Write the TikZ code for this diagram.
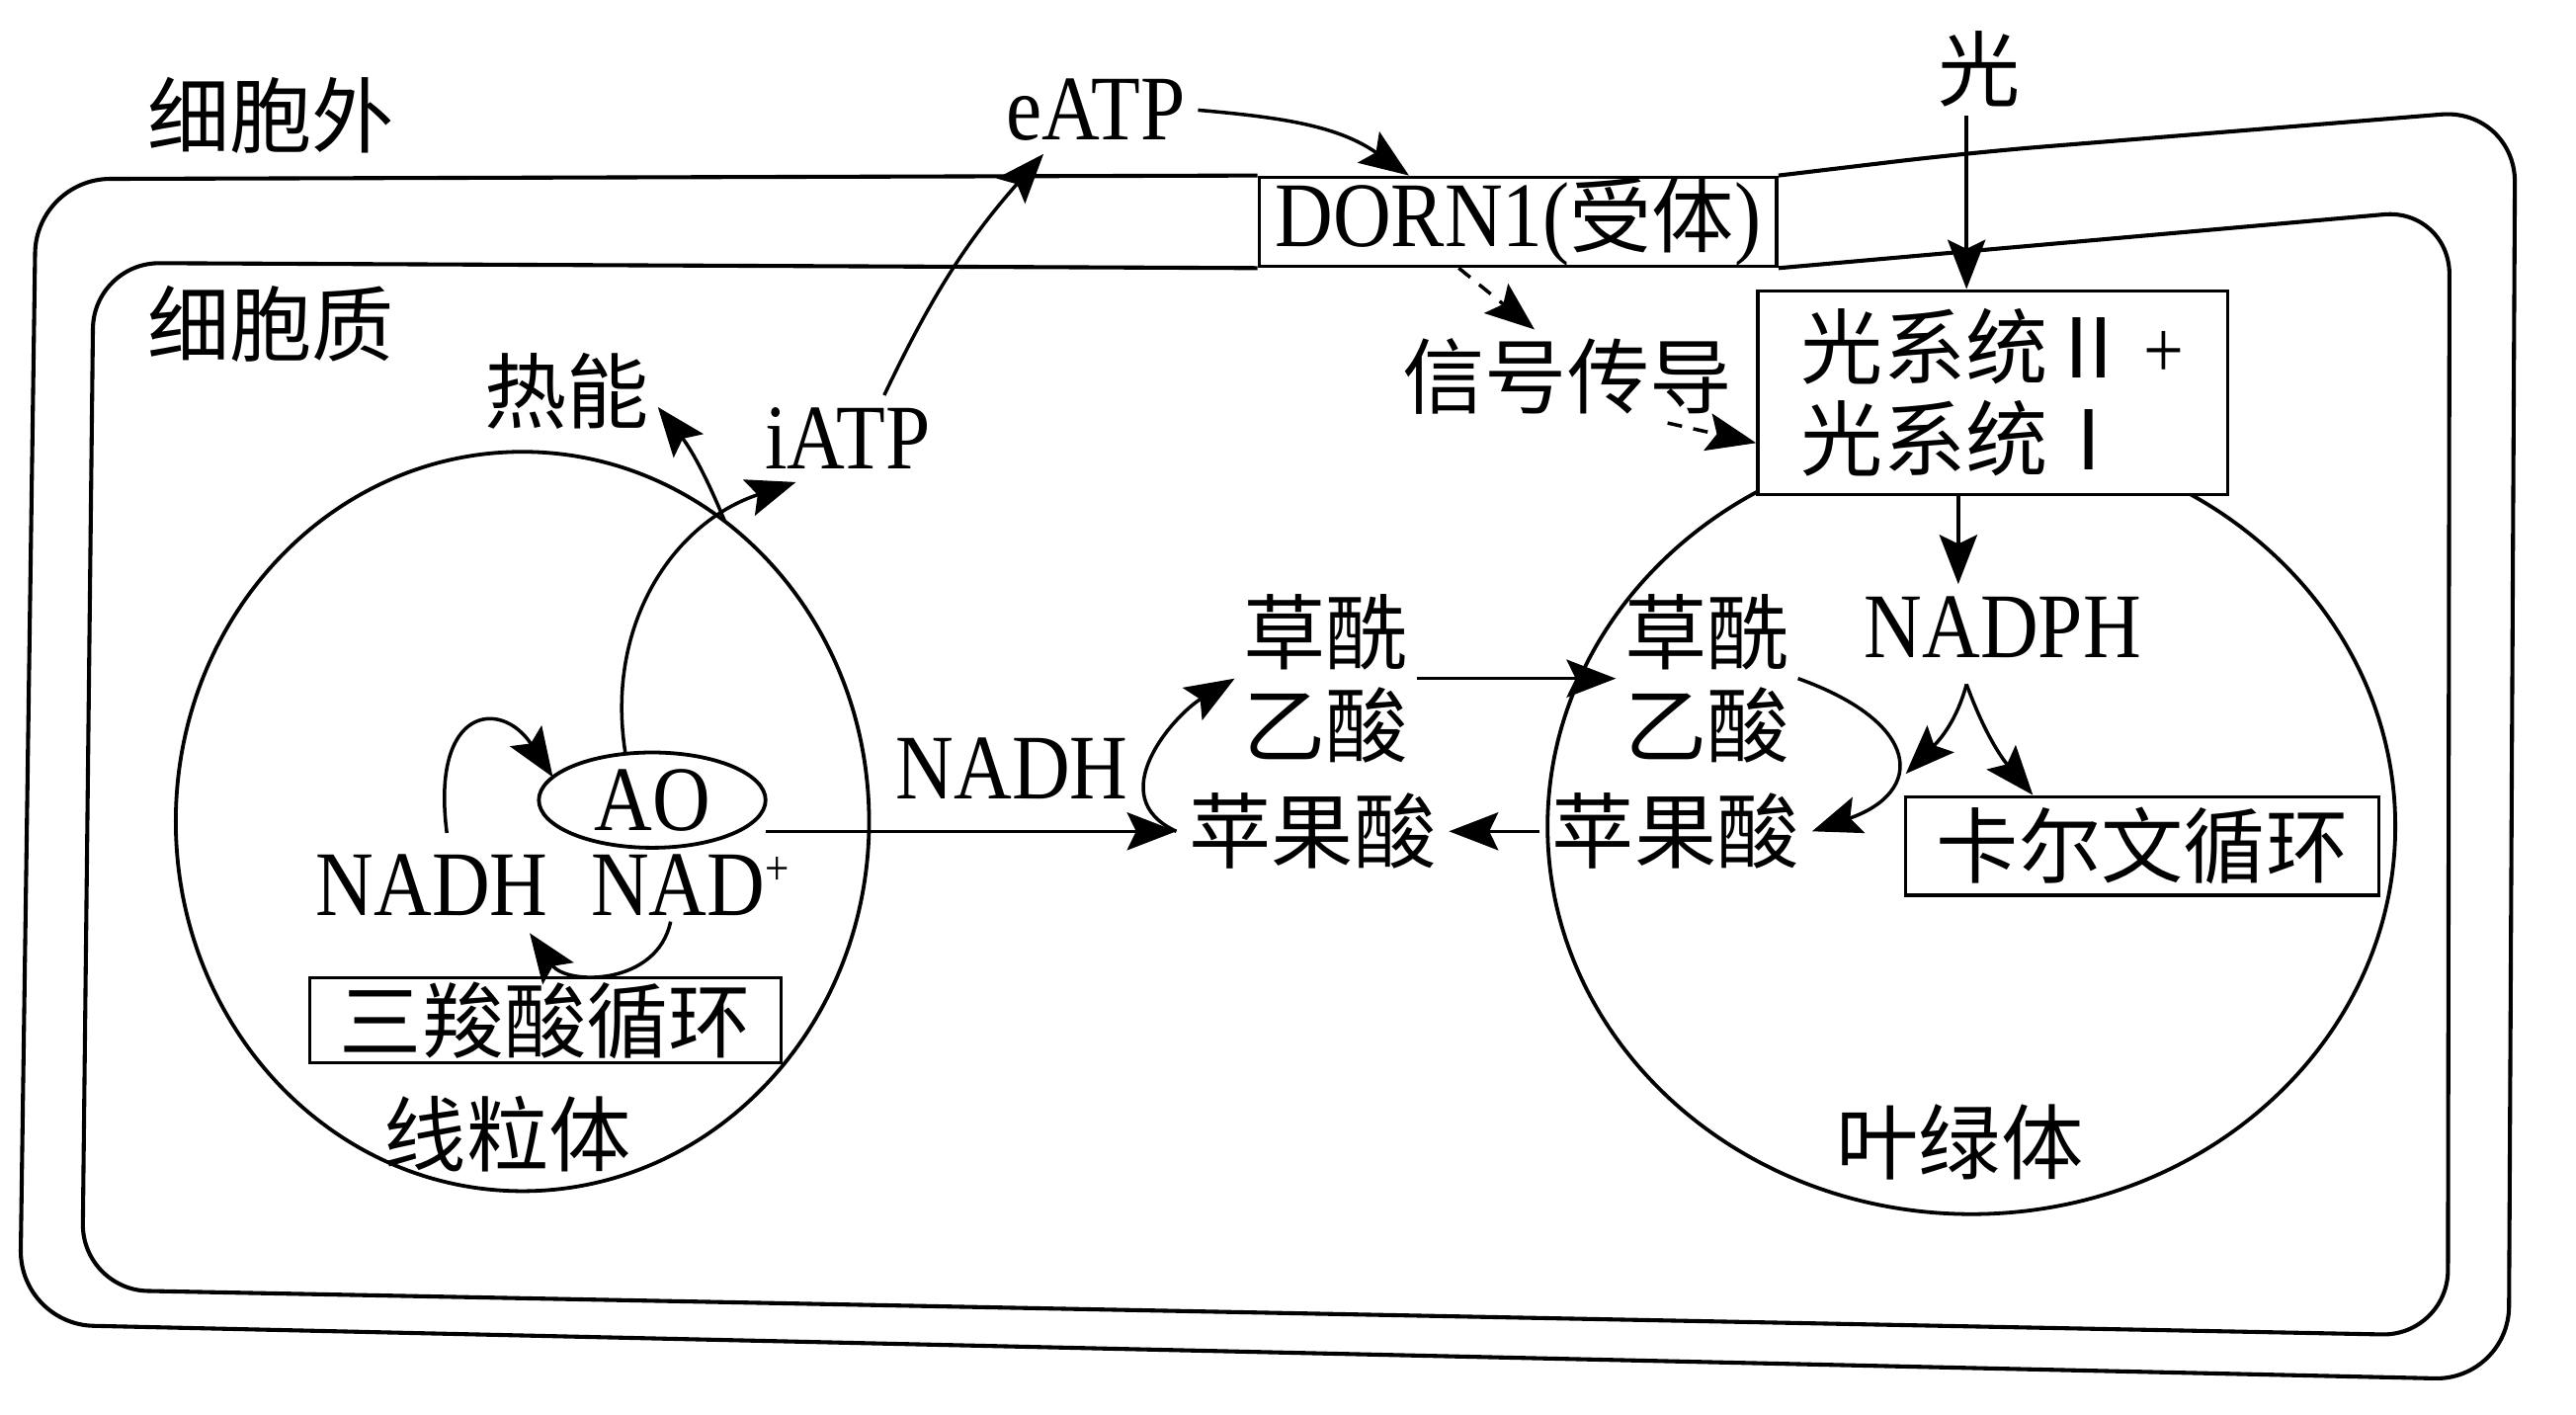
\documentclass[tikz,border=0pt]{standalone}
\usepackage{fontspec}
\setmainfont[FakeStretch=0.87]{Liberation Serif}
\newfontfamily\cjk{Noto Sans CJK SC}
\usetikzlibrary{arrows.meta,shapes.geometric}

\begin{document}
\begin{tikzpicture}
[%%%%%%%%%%%%%%%%%%%%%%%%%%%%%%
x=0.2mm,y=-0.2mm,
zh/.style={font=\cjk\fontsize{28.5}{32}\selectfont, inner sep=1mm},
en/.style={font=\fontsize{32}{38}\selectfont, inner sep=1.5mm},
arr/.style={-{Stealth[length=6mm,width=4.6mm,inset=1.1mm]}, line width=1.2pt},
dasharr/.style={arr, dash pattern=on 1.8mm off 1.4mm},
organ/.style={ellipse, draw, line width=1.3pt, inner sep=0pt, outer sep=0pt},
cycbox/.style={rectangle, draw, line width=1.2pt, fill=white, inner sep=0pt},
memb/.style={line width=1.4pt, rounded corners=9mm},
]%%%%%%%%%%%%%%%%%%%%%%%%%%%%%%

\useasboundingbox (0,0) rectangle (1568,861);

% organelles
\node[organ, minimum width=84.4mm, minimum height=90mm] (mito) at (318,500) {};
\node[organ, minimum width=103.2mm, minimum height=94.4mm] (chloro) at (1200,503) {};

% receptor and the two membranes
\node[en, draw, line width=1.2pt, minimum width=63mm, minimum height=10.8mm, inner sep=0pt] (dorn) at (924,135)
  {DORN1({\cjk\fontsize{28.5}{32}\selectfont 受体})};
\draw[memb] (dorn.north west) -- (22,109) -- (12,806) -- (1527,840) -- (1531,66) -- (1198,93) -- (dorn.north east);
\draw[memb, rounded corners=8mm] (dorn.south west) -- (57,160) -- (50,785) -- (1490,813) -- (1491,127) -- (dorn.south east);

% labels
\node[zh] (outside) at (165,70) {细胞外};
\node[zh] (cyto) at (165,197) {细胞质};
\node[en] (eatp) at (667,67) {eATP};
\node[zh] (guang) at (1205,42) {光};
\node[zh] (reneng) at (345,238) {热能};
\node[en] (iatp) at (516,267) {iATP};
\node[zh] (signal) at (954,229) {信号传导};
\node[zh, draw, fill=white, line width=1.2pt, align=left, minimum width=57.2mm, minimum height=24.8mm] (psbox) at (1213,239)
  {光系统Ⅱ\,{\rmfamily +}\\光系统Ⅰ};
\node[en] (nadph) at (1219,382) {NADPH};
\node[zh, align=center] (oaa2) at (1039,413) {草酰\\乙酸};
\node[zh, inner sep=1.5mm] (mal2) at (1020,506) {苹果酸};
\node[zh, align=center] (oaa1) at (807,413) {草酰\\乙酸};
\node[zh, inner sep=1.5mm] (mal1) at (799,506) {苹果酸};
\node[en] (nadhmid) at (616,468) {NADH};
\node[en, organ, minimum width=27.6mm, minimum height=11.6mm] (ao) at (397,487) {AO};
\node[en, anchor=base, inner sep=0.3mm] (nadh1) at (263,557) {NADH};
\node[en, anchor=base, inner sep=0.3mm] (nad) at (420,557) {NAD\raisebox{0.33em}{\fontsize{17}{18}\selectfont +}};
\node[zh, cycbox, minimum width=57.4mm, minimum height=10.4mm] (tca) at (332,621) {三羧酸循环};
\node[zh, cycbox, minimum width=57.6mm, minimum height=12mm] (calvin) at (1304,515) {卡尔文循环};
\node[zh] (mitolab) at (309,690) {线粒体};
\node[zh] (chlorolab) at (1193,695) {叶绿体};

% mitochondrion
\coordinate (loopstart) at (272,507);
\draw[arr] (loopstart) .. controls (262,430) and (305,425) .. (ao.167);
\draw[arr] (ao.120) .. controls (368,380) and (410,318) .. (iatp.220);
\draw[arr] (mito.56) to[bend right=8] (reneng.-10);
\draw[arr] ([yshift=-0.4mm]nad.-120) .. controls (400,600) and (345,600) .. ([yshift=-1.8mm]nadh1.-19);
\draw[arr] (ao.east |- mal1.west) -- (mal1.west);

% export and signalling
\draw[arr] (iatp.50) to[bend left=8] (eatp.-140);
\draw[arr] (eatp.east) to[out=-5,in=145] (dorn.157);
\draw[dasharr] (dorn.-142) -- (signal.125);
\draw[dasharr] (signal.-25) -- (psbox.192);

% chloroplast
\coordinate (lightx) at ([xshift=-1.6mm]guang.south);
\draw[arr] (lightx) -- (lightx |- psbox.north);
\coordinate (psout) at ([xshift=-4.2mm]psbox.south);
\draw[arr] (psout) -- (psout |- nadph.north);
\coordinate (fork) at ([xshift=-4.4mm,yshift=-1.6mm]nadph.south);
\coordinate (nadphuse) at (1160,471);
\draw[arr] (fork) to[out=-105,in=45] (nadphuse);
\draw[arr] (fork) to[out=-70,in=130] (calvin.155);

% malate shuttle
\draw[arr] (mal1.west) .. controls (670,485) and (715,435) .. (oaa1.west);
\draw[arr] (oaa1.east) -- (oaa2.west);
\draw[arr] (oaa2.east) .. controls (1170,440) and (1172,482) .. (mal2.east);
\draw[arr] (mal2.west) -- (mal1.east);
\end{tikzpicture}
\end{document}
